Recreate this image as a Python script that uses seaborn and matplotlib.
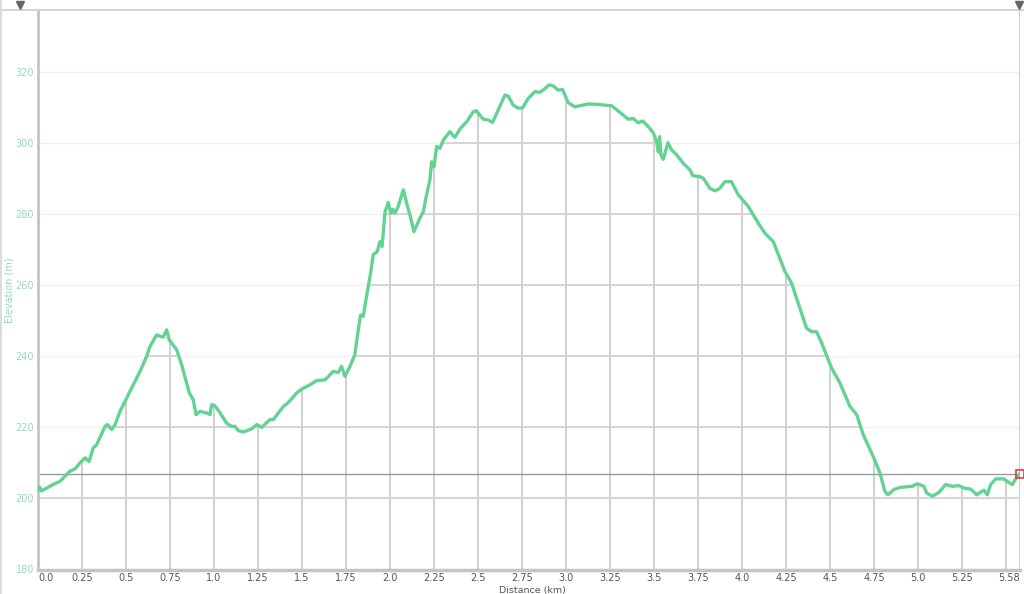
import numpy as np
import pandas as pd
import seaborn as sns
import matplotlib.pyplot as plt
from matplotlib.lines import Line2D

# elevation profile
dist_km = [0.000, 0.010, 0.020, 0.049, 0.090, 0.125, 0.180, 0.210, 0.239, 0.267,
           0.290, 0.314, 0.333, 0.381, 0.394, 0.419, 0.438, 0.466, 0.504, 0.532,
           0.580, 0.617, 0.636, 0.674, 0.700, 0.712, 0.731, 0.746, 0.788, 0.816,
           0.860, 0.882, 0.898, 0.920, 0.958, 0.977, 0.987, 1.006, 1.034, 1.072,
           1.100, 1.119, 1.138, 1.167, 1.214, 1.243, 1.271, 1.318, 1.337, 1.394,
           1.422, 1.470, 1.498, 1.545, 1.583, 1.631, 1.678, 1.706, 1.725, 1.744,
           1.773, 1.800, 1.820, 1.833, 1.848, 1.862, 1.877, 1.890, 1.905, 1.928,
           1.943, 1.955, 1.972, 1.990, 2.004, 2.015, 2.028, 2.047, 2.076, 2.095,
           2.114, 2.136, 2.170, 2.190, 2.208, 2.227, 2.237, 2.250, 2.265, 2.284,
           2.303, 2.340, 2.369, 2.400, 2.436, 2.473, 2.490, 2.530, 2.558, 2.583,
           2.615, 2.653, 2.672, 2.700, 2.729, 2.754, 2.786, 2.824, 2.852, 2.875,
           2.905, 2.928, 2.956, 2.980, 3.013, 3.050, 3.127, 3.174, 3.260, 3.307,
           3.354, 3.383, 3.410, 3.436, 3.468, 3.496, 3.515, 3.525, 3.532, 3.540,
           3.553, 3.580, 3.598, 3.630, 3.666, 3.705, 3.720, 3.760, 3.780, 3.818,
           3.847, 3.875, 3.903, 3.940, 3.979, 4.036, 4.093, 4.130, 4.178, 4.244,
           4.282, 4.367, 4.396, 4.424, 4.453, 4.510, 4.557, 4.614, 4.652, 4.690,
           4.746, 4.784, 4.812, 4.830, 4.864, 4.900, 4.968, 4.996, 5.034, 5.050,
           5.082, 5.120, 5.157, 5.195, 5.233, 5.261, 5.300, 5.334, 5.355, 5.375,
           5.394, 5.413, 5.442, 5.489, 5.507, 5.536, 5.565, 5.580]
elev_m = [202.0, 203.0, 201.9, 202.7, 203.8, 204.6, 207.4, 208.1, 209.8, 211.2,
          210.2, 214.0, 214.9, 220.1, 220.6, 219.2, 220.6, 224.3, 228.1, 230.9,
          235.6, 239.8, 242.6, 245.9, 245.4, 245.3, 247.3, 244.5, 241.7, 237.5,
          229.5, 227.6, 223.4, 224.3, 223.9, 223.4, 226.2, 225.9, 223.9, 221.0,
          220.1, 220.1, 218.9, 218.5, 219.4, 220.6, 219.8, 222.0, 222.0, 225.7,
          226.8, 229.5, 230.6, 231.8, 233.0, 233.2, 235.6, 235.3, 237.0, 234.2,
          237.0, 240.3, 247.3, 251.5, 251.1, 255.3, 259.5, 263.3, 268.5, 269.4,
          272.2, 270.8, 280.6, 283.2, 280.2, 281.3, 280.2, 282.1, 286.8, 283.0,
          279.7, 275.0, 278.8, 280.7, 285.4, 289.6, 294.7, 293.3, 299.0, 298.5,
          300.8, 303.2, 301.6, 304.1, 306.0, 308.8, 309.1, 306.7, 306.5, 305.8,
          309.3, 313.5, 313.2, 310.7, 309.8, 309.9, 312.6, 314.5, 314.3, 315.1,
          316.4, 316.1, 314.9, 315.1, 311.4, 310.2, 311.0, 310.9, 310.5, 308.6,
          306.7, 306.9, 305.7, 306.2, 304.6, 302.9, 300.4, 297.5, 301.8, 296.6,
          295.4, 300.1, 298.2, 296.6, 294.3, 292.4, 290.8, 290.5, 290.1, 287.2,
          286.5, 287.2, 289.1, 289.1, 285.4, 282.1, 277.4, 274.6, 272.2, 263.8,
          260.5, 247.8, 246.8, 246.8, 243.6, 236.5, 232.3, 225.7, 223.4, 217.7,
          211.6, 207.0, 201.8, 200.8, 202.3, 202.9, 203.2, 203.9, 203.2, 201.3,
          200.4, 201.5, 203.7, 203.2, 203.4, 202.7, 202.4, 200.8, 201.5, 202.1,
          200.8, 203.7, 205.3, 205.3, 204.6, 203.7, 206.0, 206.8]

xtick_vals = [0.0, 0.25, 0.5, 0.75, 1.0, 1.25, 1.5, 1.75, 2.0, 2.25, 2.5, 2.75,
              3.0, 3.25, 3.5, 3.75, 4.0, 4.25, 4.5, 4.75, 5.0, 5.25, 5.58]
xtick_labels = ["0.0", "0.25", "0.5", "0.75", "1.0", "1.25", "1.5", "1.75", "2.0",
                "2.25", "2.5", "2.75", "3.0", "3.25", "3.5", "3.75", "4.0", "4.25",
                "4.5", "4.75", "5.0", "5.25", "5.58"]
xgrid_vals = [0.25, 0.5, 0.75, 1.0, 1.25, 1.5, 1.75, 2.0, 2.25, 2.5, 2.75, 3.0,
              3.25, 3.5, 3.75, 4.0, 4.25, 4.5, 4.75, 5.0, 5.25, 5.5]
ytick_vals = [180, 200, 220, 240, 260, 280, 300, 320]
cursor_km = 5.58
cursor_elev = 206.8

df = pd.DataFrame({"dist": dist_km, "elev": elev_m})

sns.set_style("white")
plt.rcParams['font.family'] = ['DejaVu Sans']

line_col = '#63d393'
label_green = '#8fe0b0'

fig = plt.figure(figsize=(10.24, 5.94), dpi=100)
ax = fig.add_axes([38/1024, 1 - 570/594, (1020 - 38)/1024, 560/594])

xmin, xmax = 0.0, 5.58
ymin, ymax = 179.6, 337.5
ax.set_xlim(xmin, xmax)
ax.set_ylim(ymin, ymax)

# faint horizontal grid everywhere
for yv in ytick_vals[1:]:
    ax.axhline(yv, color='#f1f1f1', lw=1, zorder=0)

# area under the profile, used only as a clip region for the darker grid
poly = ax.fill_between(df["dist"], df["elev"], ymin, color='none', lw=0)
clip_path = poly.get_paths()[0]
for yv in ytick_vals[1:]:
    gl = ax.axhline(yv, color='#d0d0d0', lw=1.2, zorder=1)
    gl.set_clip_path(clip_path, ax.transData)
for xv in xgrid_vals:
    gl = ax.axvline(xv, color='#d0d0d0', lw=1.4, zorder=1)
    gl.set_clip_path(clip_path, ax.transData)

# cursor line
ax.axhline(cursor_elev, color='#9a9a9a', lw=1, zorder=2)

sns.lineplot(data=df, x="dist", y="elev", ax=ax, color=line_col, lw=2.4,
             estimator=None, sort=False, zorder=3)

ax.plot([cursor_km], [cursor_elev], marker='s', ms=6, mfc='none', mec='#e8394a',
        mew=1.2, clip_on=False, zorder=5)

# ticks
ax.set_xticks(xtick_vals)
ax.set_xticklabels(xtick_labels, fontsize=7, color='#555555')
for i, lab in enumerate(ax.get_xticklabels()):
    if i == 0:
        lab.set_ha('left')
    elif i == len(xtick_vals) - 1:
        lab.set_ha('right')
ax.set_yticks(ytick_vals)
ax.set_yticklabels([str(v) for v in ytick_vals], fontsize=7, color=label_green)
ax.tick_params(axis='x', length=0, pad=2)
ax.tick_params(axis='y', length=0, pad=3)

ax.set_xlabel("Distance (km)", fontsize=6.8, color='#555555', va='top')
ax.xaxis.set_label_coords(0.503, -15.5/560)
ax.set_ylabel("Elevation (m)", fontsize=7, color=label_green, va='center')
ax.yaxis.set_label_coords(-28/982, 0.5)

for side in ['top', 'right']:
    ax.spines[side].set_visible(False)
ax.spines['left'].set_color('#c4c4c4')
ax.spines['left'].set_linewidth(2)
ax.spines['bottom'].set_color('#c4c4c4')
ax.spines['bottom'].set_linewidth(2.5)

# right edge line
ax.axvline(xmax, color='#cfcfcf', lw=1.5, zorder=2)

# top band line and marker triangles
fig.add_artist(Line2D([0, 1], [1 - 10/594, 1 - 10/594], color='#d4d4d4', lw=1.5,
                      transform=fig.transFigure))
fig.add_artist(Line2D([1/1024, 1/1024], [0, 1], color='#dcdcdc', lw=1.5,
                      transform=fig.transFigure))
for px in [20, 1019]:
    fig.add_artist(Line2D([px/1024], [1 - 5/594], marker='v', ms=6, color='#666666',
                          lw=0, transform=fig.transFigure))

fig.savefig("out.png", dpi=100)
